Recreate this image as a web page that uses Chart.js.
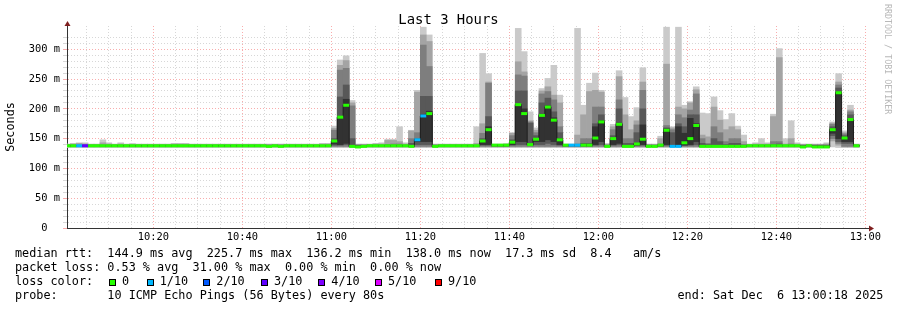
<!DOCTYPE html>
<html>
<head>
<meta charset="utf-8">
<script src="https://cdn.jsdelivr.net/npm/chart.js@4.4.1/dist/chart.umd.min.js"></script>
<style>
  html, body { margin: 0; padding: 0; background: #fff; }
  #wrap { position: relative; width: 897px; height: 310px; overflow: hidden;
          font-family: "DejaVu Sans Mono", monospace; color: #000; }
  #chart { position: absolute; left: 0; top: 0; }
  .t { position: absolute; white-space: pre; line-height: 1; }
  .box { position: absolute; width: 5px; height: 5px; border: 1px solid #000; }
</style>
</head>
<body>
<div id="wrap">
  <canvas id="chart" width="897" height="310"></canvas>
</div>
<script>
// one sample every 80 s, sample k covers [k*80, (k+1)*80] seconds after 10:00:00
const sampleSec = 80;

// median rtt (ms) per sample
const med = [
  138,138,138,138,138,138,138,138,138,138,138,138,138,138,138,
  138,138,138,138,138,138,138,138,138,138,138,138,138,138,138,
  138,138,138,138,137,138,137,138,138,138,138,138,138,138,138,
  146,186,206,137,136,137,138,138,138,138,138,138,138,137,148,
  188,192,137,138,138,138,138,138,138,138,146,165,139,139,139,
  144,207,192,140,149,189,203,181,148,139,139,139,139,139,151,
  178,137,150,174,137,137,141,149,137,137,139,164,137,137,143,
  150,172,137,137,137,137,137,137,137,137,138,138,138,138,138,
  138,138,138,138,136,138,136,136,136,165,227,151,182,138,null
];
// lost pings out of 10 per sample
const loss = [
  0,0,1,3,0,0,0,0,0,0,0,0,0,0,0,
  0,0,0,0,0,0,0,0,0,0,0,0,0,0,0,
  0,0,0,0,0,0,0,0,0,0,0,0,0,0,0,
  0,0,0,0,0,0,0,0,0,0,0,0,0,0,1,
  1,0,0,0,0,0,0,0,0,0,0,0,0,0,0,
  0,0,0,0,0,0,0,0,0,0,1,1,0,0,0,
  0,0,0,0,0,0,0,0,0,0,0,0,1,1,0,
  0,0,0,0,0,0,0,0,0,0,0,0,0,0,0,
  0,0,0,0,0,0,0,0,0,0,0,0,0,0,null
];
// sorted ping times (ms), p1 = fastest ... p10 = slowest
const p10 = [
  141,142,143,143,141,141,148,143,141,143,141,142,141,141,141,
  141,141,141,142,142,142,141,141,141,141,141,141,141,141,141,
  141,141,141,141,141,141,141,141,141,141,141,141,141,142,142,
  171,282,289,214,141,141,141,142,143,149,149,170,143,164,231,
  337,324,141,141,141,141,141,141,141,170,293,259,141,141,142,
  160,335,296,195,168,234,251,273,223,141,141,335,206,243,260,
  231,142,174,264,219,187,202,269,141,141,154,337,170,337,206,
  212,237,193,192,220,197,182,192,171,156,141,143,150,143,191,
  301,150,180,143,141,141,141,141,143,178,259,163,206,141,null
];
const p9 = [
  140,141,142,141,140,140,143,141,140,141,140,140,140,140,140,
  140,140,140,141,141,141,140,140,140,140,140,140,140,140,140,
  140,140,140,140,140,140,140,140,140,140,140,140,140,141,141,
  167,273,281,210,140,140,140,141,141,147,147,145,141,163,228,
  324,313,140,140,140,140,140,140,140,142,175,245,140,140,140,
  159,279,262,180,164,230,237,223,210,140,140,156,190,229,231,
  228,140,170,254,190,165,180,245,140,140,150,275,168,203,200,
  210,232,156,153,203,181,165,170,165,145,140,141,141,141,187,
  286,141,150,141,140,140,140,140,141,176,245,160,198,140,null
];
const p8 = [
  139,139,139,139,139,139,139,139,139,139,139,139,139,139,139,
  139,139,139,139,139,139,139,139,139,139,139,139,139,139,139,
  139,139,139,139,139,139,139,139,139,139,139,139,139,139,139,
  164,265,268,205,139,139,139,139,139,140,141,141,139,150,160,
  307,271,139,139,139,139,139,139,139,139,159,243,139,139,139,
  155,257,255,178,160,225,229,215,170,139,139,141,150,150,203,
  203,139,165,215,150,150,173,231,139,139,141,172,165,190,185,
  198,225,150,142,170,160,145,150,150,140,139,139,139,139,145,
  145,139,141,139,139,139,139,139,139,174,240,158,195,139,null
];
const p7 = [
  139,139,139,139,139,139,139,139,139,139,139,139,139,139,139,
  139,139,139,139,139,139,139,139,139,139,139,139,139,139,139,
  139,139,139,139,139,139,139,139,139,139,139,139,139,139,139,
  150,220,240,150,139,139,139,139,139,139,139,139,139,142,150,
  221,221,139,139,139,139,139,139,139,139,150,187,139,139,139,
  148,230,230,176,155,210,218,195,160,139,139,139,142,142,175,
  190,139,155,200,142,142,160,200,139,139,139,168,160,175,170,
  190,190,142,140,150,145,140,142,142,139,139,139,139,139,140,
  141,139,139,139,139,139,139,139,139,170,235,155,190,139,null
];
const p6 = [
  138,138,138,138,138,138,138,138,138,138,138,138,138,138,138,
  138,138,138,138,138,138,138,138,138,138,138,138,138,138,138,
  138,138,138,138,137,138,137,138,138,138,138,138,138,138,138,
  146,186,216,138,136,137,138,138,138,138,138,138,138,137,148,
  190,196,137,138,138,138,138,138,138,138,146,170,139,139,139,
  145,207,200,141,150,191,205,185,150,139,139,139,139,139,170,
  180,137,150,176,137,137,142,173,137,137,139,166,138,170,159,
  184,175,137,137,137,137,137,137,137,137,138,138,138,138,138,
  138,138,138,138,136,138,136,136,136,166,228,152,183,138,null
];
const p5 = [
  138,138,138,138,138,138,138,138,138,138,138,138,138,138,138,
  138,138,138,138,138,138,138,138,138,138,138,138,138,138,138,
  138,138,138,138,137,138,137,138,138,138,138,138,138,138,138,
  141,140,142,137,136,137,138,138,138,138,138,138,138,137,145,
  145,145,137,138,138,138,138,138,138,138,140,140,139,139,139,
  140,145,145,139,145,145,148,145,140,139,139,139,139,139,140,
  145,137,140,142,137,137,139,140,137,137,138,140,137,137,139,
  140,145,137,137,137,137,137,137,137,137,138,138,138,138,138,
  138,138,138,138,136,138,136,136,136,159,150,145,145,138,null
];
const p4 = [
  137,137,137,137,137,137,137,137,137,137,137,137,137,137,137,
  137,137,137,137,137,137,137,137,137,137,137,137,137,137,137,
  137,137,137,137,137,137,137,137,137,137,137,137,137,137,137,
  139,139,140,137,136,137,137,137,137,137,137,137,137,137,140,
  140,140,137,137,137,137,137,137,137,137,139,139,137,137,137,
  139,140,140,138,140,140,142,140,139,137,137,137,137,137,139,
  140,137,139,140,137,137,138,139,137,137,137,139,137,137,139,
  139,140,137,137,137,137,137,137,137,137,137,137,137,137,137,
  137,137,137,137,136,137,136,136,136,155,145,142,142,137,null
];
const p3 = [
  137,137,137,137,137,137,137,137,137,137,137,137,137,137,137,
  137,137,137,137,137,137,137,137,137,137,137,137,137,137,137,
  137,137,137,137,137,137,137,137,137,137,137,137,137,137,137,
  137,137,137,137,136,137,137,137,137,137,137,137,137,137,137,
  137,137,137,137,137,137,137,137,137,137,137,137,137,137,137,
  137,137,137,137,137,137,137,137,137,137,137,137,137,137,137,
  137,137,137,137,137,137,137,137,137,137,137,137,137,137,137,
  137,137,137,137,137,137,137,137,137,137,137,137,137,137,137,
  137,137,137,137,136,137,136,136,136,150,142,137,137,137,null
];
const p2 = [
  136,136,136,136,136,136,136,136,136,136,136,136,136,136,136,
  136,136,136,136,136,136,136,136,136,136,136,136,136,136,136,
  136,136,136,136,136,136,136,136,136,136,136,136,136,136,136,
  136,136,136,136,136,136,136,136,136,136,136,136,136,136,136,
  136,136,136,136,136,136,136,136,136,136,136,136,136,136,136,
  136,136,136,136,136,136,136,136,136,136,136,136,136,136,136,
  136,136,136,136,136,136,136,136,136,136,136,136,136,136,136,
  136,136,136,136,136,136,136,136,136,136,136,136,136,136,136,
  136,136,136,136,136,136,136,136,136,146,139,136,136,136,null
];
const p1 = [
  135,135,135,135,135,135,135,135,135,135,135,135,135,135,135,
  135,135,135,135,135,135,135,135,135,135,135,135,135,135,135,
  135,135,135,135,135,135,135,135,135,135,135,135,135,135,135,
  135,135,135,135,135,135,135,135,135,135,135,135,135,135,135,
  135,135,135,135,135,135,135,135,135,135,135,135,135,135,135,
  135,135,135,135,135,135,135,135,135,135,135,135,135,135,135,
  135,135,135,135,135,135,135,135,135,135,135,135,135,135,135,
  135,135,135,135,135,135,135,135,135,135,135,135,135,135,135,
  135,135,135,135,135,135,135,135,135,136,135,135,135,135,null
];

// loss legend
const lossSteps  = [0, 1, 2, 3, 4, 5, 9];
const lossNames  = ['0', '1/10', '2/10', '3/10', '4/10', '5/10', '9/10'];
const lossColors = ['#26ff00', '#00b8ff', '#0059ff', '#5e00ff', '#7e00ff', '#dd00ff', '#ff0000'];

// axis: seconds after 10:00:00
const xTickStep = 300, xLabelStep = 1200, xMin = 36, xMax = 10809;
const yMin = 0, yMax = 339, yTickStep = 10, yLabelStep = 50;

const legendRows = [
  'median rtt:  144.9 ms avg  225.7 ms max  136.2 ms min  138.0 ms now  17.3 ms sd  8.4   am/s',
  'packet loss: 0.53 % avg  31.00 % max  0.00 % min  0.00 % now',
  'loss color:',
  'probe:       10 ICMP Echo Pings (56 Bytes) every 80s'
];
const endText = 'end: Sat Dec  6 13:00:18 2025';
const titleText = 'Last 3 Hours';
const yTitle = 'Seconds';
const watermark = 'RRDTOOL / TOBI OETIKER';

// ---------- text overlay ----------
const wrap = document.getElementById('wrap');
function addText(txt, css) {
  const d = document.createElement('div');
  d.className = 't';
  d.textContent = txt;
  Object.assign(d.style, css);
  wrap.appendChild(d);
  return d;
}
addText(titleText, { left: '0px', width: '897px', textAlign: 'center', top: '13.2px', fontSize: '13.9px' });
addText(watermark, { left: '883.5px', top: '4px', fontSize: '8.33px', lineHeight: '8.33px',
                     writingMode: 'vertical-rl', color: '#b8b8b8' });
const rowTops = [247.5, 261.7, 276, 290];
legendRows.forEach((r, i) => addText(r, { left: '15px', top: rowTops[i] + 'px', fontSize: '11.8px' }));
addText(endText, { left: '677.5px', top: rowTops[3] + 'px', fontSize: '11.8px' });
const boxX = [109, 146.7, 203.3, 261, 318.3, 375, 435];
lossNames.forEach((n, i) => {
  const b = document.createElement('div');
  b.className = 'box';
  b.style.left = boxX[i] + 'px';
  b.style.top = '279px';
  b.style.background = lossColors[i];
  wrap.appendChild(b);
  addText(n, { left: (boxX[i] + 13) + 'px', top: rowTops[2] + 'px', fontSize: '11.8px' });
});

// ---------- chart ----------
function lossColor(l) {
  let c = lossColors[0];
  lossSteps.forEach((s, i) => { if (l >= s) c = lossColors[i]; });
  return c;
}
const shades = ['#cacaca', '#a4a4a4', '#7e7e7e', '#585858', '#323232'];
const lows = [p1, p2, p3, p4, p5];
const highs = [p10, p9, p8, p7, p6];
const idx = med.map((m, k) => k).filter(k => med[k] !== null);

const smokeSets = shades.map((c, i) => ({
  type: 'bar',
  data: idx.map(k => ({ x: k * sampleSec + sampleSec / 2, y: [lows[i][k], highs[i][k]] })),
  backgroundColor: c,
  grouped: false,
  barPercentage: 1,
  categoryPercentage: 1,
  order: 10 - i
}));

const edgeLine = {
  type: 'line',
  data: idx.map(k => ({ x: k * sampleSec, y: med[k] })),
  stepped: 'before',
  borderColor: '#202020',
  borderWidth: 1,
  pointRadius: 0,
  fill: false,
  order: 2
};

function halfStepPx(chart) {
  const x = chart.scales.x;
  return (x.getPixelForValue(sampleSec) - x.getPixelForValue(0)) / 2;
}
const medianMarks = {
  type: 'line',
  showLine: false,
  data: idx.map(k => ({ x: k * sampleSec + sampleSec / 2, y: med[k], loss: loss[k] })),
  pointStyle: 'line',
  pointBorderWidth: 3,
  pointRadius: c => halfStepPx(c.chart),
  pointBorderColor: c => lossColor(c.raw ? c.raw.loss : 0),
  order: 1
};

const xTicks = [];
for (let s = xTickStep; s <= xMax; s += xTickStep) xTicks.push({ value: s });

function hhmm(v) {
  const h = 10 + Math.floor(v / 3600);
  const m = Math.floor((v % 3600) / 60);
  return h + ':' + String(m).padStart(2, '0');
}
const minorGrid = 'rgba(150,150,150,0.38)';
const majorGrid = 'rgba(240,60,60,0.42)';
const monoFont = 'DejaVu Sans Mono';

const axisArrows = {
  id: 'axisArrows',
  afterDraw(chart) {
    const { ctx, chartArea: a } = chart;
    const xl = Math.round(a.left) + 0.5;
    const yb = Math.round(a.bottom) + 0.5;
    ctx.save();
    ctx.strokeStyle = '#333';
    ctx.lineWidth = 1;
    ctx.beginPath();
    ctx.moveTo(xl, a.top);
    ctx.lineTo(xl, a.top - 3);
    ctx.moveTo(a.right, yb);
    ctx.lineTo(a.right + 4, yb);
    ctx.stroke();
    ctx.fillStyle = '#7f1f1f';
    ctx.beginPath();
    ctx.moveTo(xl, a.top - 5);
    ctx.lineTo(xl - 3, a.top);
    ctx.lineTo(xl + 3, a.top);
    ctx.closePath();
    ctx.fill();
    ctx.beginPath();
    ctx.moveTo(a.right + 8, yb);
    ctx.lineTo(a.right + 3, yb - 3);
    ctx.lineTo(a.right + 3, yb + 3);
    ctx.closePath();
    ctx.fill();
    ctx.restore();
  }
};

new Chart(document.getElementById('chart'), {
  type: 'bar',
  data: { datasets: [...smokeSets, edgeLine, medianMarks] },
  options: {
    responsive: false,
    animation: false,
    events: [],
    layout: { padding: { left: 0, top: 26, right: 31, bottom: 62 } },
    plugins: { legend: { display: false }, tooltip: { enabled: false } },
    scales: {
      x: {
        type: 'linear',
        min: xMin,
        max: xMax,
        offset: false,
        afterBuildTicks: s => { s.ticks = xTicks.map(t => ({ value: t.value })); },
        afterFit: s => { s.height = 20; },
        ticks: {
          autoSkip: false,
          maxRotation: 0,
          padding: 3,
          color: '#000',
          font: { family: monoFont, size: 10.4 },
          callback: v => (v % xLabelStep === 0 ? hhmm(v) : '')
        },
        grid: {
          offset: false,
          drawTicks: false,
          color: c => (c.tick && c.tick.value % xLabelStep === 0 ? majorGrid : minorGrid)
        },
        border: { color: '#333', width: 1, dash: [1, 2] }
      },
      y: {
        type: 'linear',
        min: yMin,
        max: yMax,
        afterBuildTicks: s => { s.ticks = s.ticks.filter(t => t.value % yTickStep === 0); },
        afterFit: s => { s.width = 67; },
        ticks: {
          stepSize: yTickStep,
          autoSkip: false,
          padding: 3,
          color: '#000',
          font: { family: monoFont, size: 10.4 },
          callback: v => (v === 0 ? '0  ' : (v % yLabelStep === 0 ? v + ' m' : ''))
        },
        grid: {
          drawTicks: true,
          tickLength: 4,
          color: c => (c.tick && c.tick.value % yLabelStep === 0 ? majorGrid : minorGrid)
        },
        border: { color: '#333', width: 1, dash: [1, 2] },
        title: {
          display: true,
          text: yTitle,
          color: '#000',
          font: { family: monoFont, size: 11.8 },
          padding: { top: 4, bottom: 0 }
        }
      }
    }
  },
  plugins: [axisArrows]
});
</script>
</body>
</html>
